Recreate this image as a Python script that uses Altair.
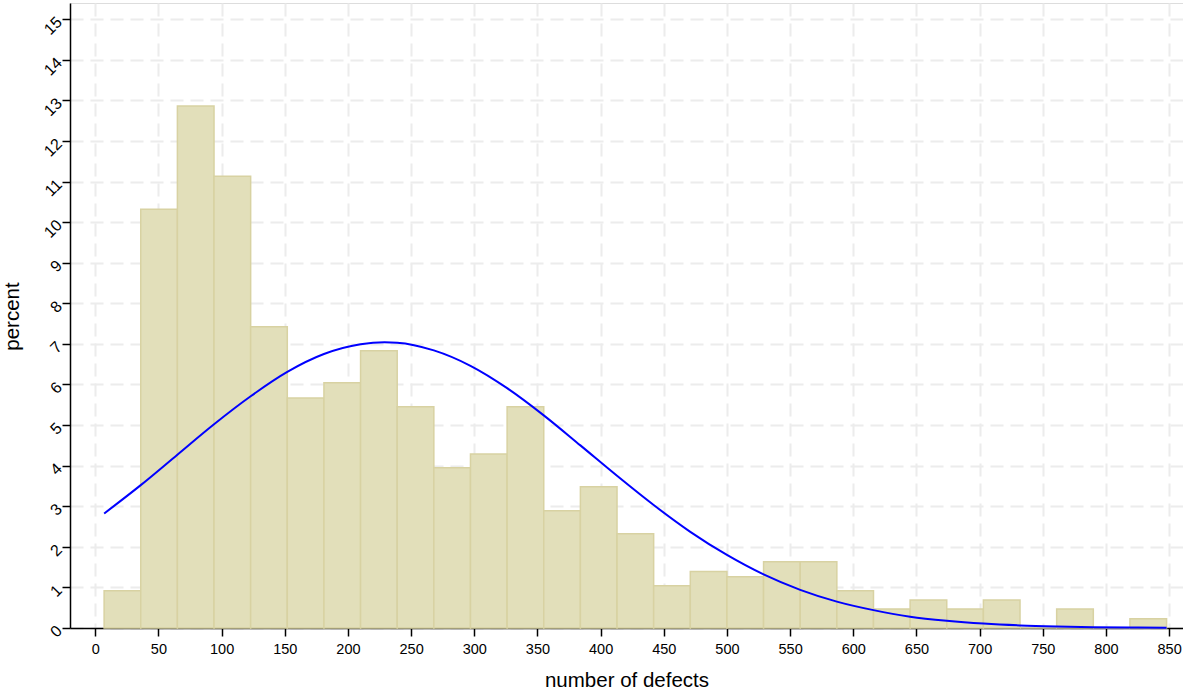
import altair as alt
import pandas as pd

# Histogram bins (number of defects), bin width 29
bin_start = [7, 36, 65, 94, 123, 152, 181, 210, 239, 268, 297, 326, 355, 384,
             413, 442, 471, 500, 529, 558, 587, 616, 645, 674, 703, 732, 761, 790, 819]
bin_end = [36, 65, 94, 123, 152, 181, 210, 239, 268, 297, 326, 355, 384, 413,
           442, 471, 500, 529, 558, 587, 616, 645, 674, 703, 732, 761, 790, 819, 848]
percent = [0.92, 10.32, 12.86, 11.13, 7.42, 5.67, 6.04, 6.83, 5.45, 3.95, 4.29, 5.45,
           2.89, 3.48, 2.32, 1.04, 1.39, 1.26, 1.63, 1.63, 0.92, 0.47, 0.69, 0.47,
           0.69, 0.0, 0.47, 0.0, 0.23]

# Normal curve points
curve_x = [7, 36, 65, 94, 123, 152, 181, 210, 229, 239, 268, 297, 326, 355, 384, 413,
           442, 471, 500, 529, 558, 587, 616, 645, 674, 703, 732, 761, 790, 819, 848]
curve_y = [2.82, 3.52, 4.27, 5.02, 5.71, 6.31, 6.75, 6.99, 7.04, 7.03, 6.84, 6.46, 5.91,
           5.24, 4.50, 3.75, 3.03, 2.37, 1.80, 1.32, 0.94, 0.65, 0.44, 0.28, 0.18, 0.11,
           0.064, 0.037, 0.020, 0.011, 0.006]

x_ticks = list(range(0, 851, 50))
y_ticks = list(range(0, 16))

bars_df = pd.DataFrame({"start": bin_start, "end": bin_end, "pct": percent})
curve_df = pd.DataFrame({"x": curve_x, "y": curve_y})

FONT = "Liberation Sans"
xscale = alt.Scale(domain=[-20, 861], nice=False, zero=False)
yscale = alt.Scale(domain=[0, 15.4], nice=False)

xaxis = alt.Axis(values=x_ticks, title="number of defects", grid=True,
                 gridDash=[13, 7], gridColor="#ececec", gridWidth=2,
                 domainColor="black", domainWidth=1.5, tickColor="black",
                 tickWidth=1.5, tickSize=8, labelFontSize=14.5, labelColor="black",
                 labelPadding=6, titleFontSize=20.5, titleFontWeight="normal",
                 titleColor="black", titleBaseline="alphabetic", titleY=58,
                 labelFont=FONT, titleFont=FONT)
yaxis = alt.Axis(values=y_ticks, title="percent", grid=True,
                 gridDash=[13, 7], gridColor="#ececec", gridWidth=2,
                 domainColor="black", domainWidth=1.5, tickColor="black",
                 tickWidth=1.5, tickSize=8, labelFontSize=16, labelColor="black",
                 labelAngle=315, labelAlign="right", labelBaseline="middle",
                 labelPadding=3, titleFontSize=20.5, titleFontWeight="normal",
                 titleColor="black", titleAngle=270, titleBaseline="alphabetic",
                 titleX=-52, titleY=313, labelFont=FONT, titleFont=FONT)

bars = alt.Chart(bars_df).mark_rect(
    fill="#e2dfba", stroke="#d8d2a2", strokeWidth=1.5
).encode(
    x=alt.X("start:Q", scale=xscale, axis=xaxis),
    x2="end:Q",
    y=alt.Y("pct:Q", scale=yscale, axis=yaxis),
    y2=alt.datum(0),
)

line = alt.Chart(curve_df).mark_line(
    color="#0000ff", strokeWidth=2, interpolate="monotone"
).encode(
    x=alt.X("x:Q", scale=xscale),
    y=alt.Y("y:Q", scale=yscale),
)

chart = alt.layer(bars, line).properties(
    width=1113, height=625,
    autosize=alt.AutoSizeParams(type="none"),
    padding={"left": 70, "top": 3, "right": 0, "bottom": 62},
).configure_view(stroke=None).configure(background="white")

chart.save("out.html", embed_options={"renderer": "svg", "actions": False})
